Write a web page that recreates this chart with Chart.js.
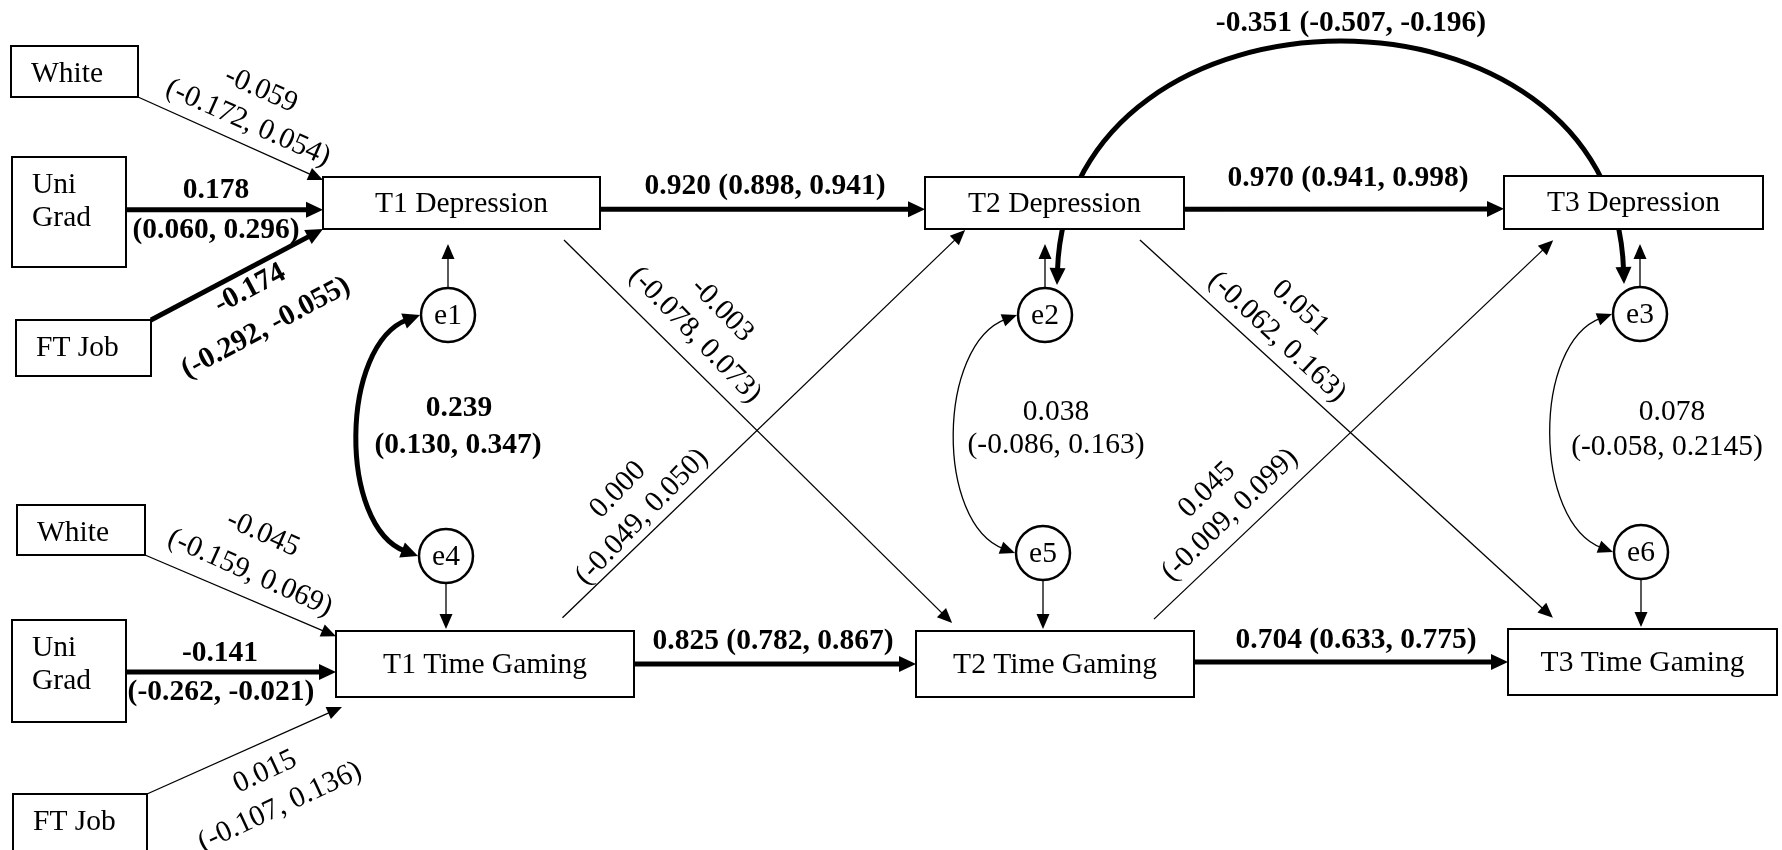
<!DOCTYPE html>
<html>
<head>
<meta charset="utf-8">
<script src="https://cdn.jsdelivr.net/npm/chart.js@4.4.1/dist/chart.umd.min.js"></script>
<style>
  html, body { margin: 0; padding: 0; background: #fff; }
  #wrap { width: 1782px; height: 850px; }
</style>
</head>
<body>
<div id="wrap"><canvas id="pathChart" width="1782" height="850"></canvas></div>
<script>
// observed variables
const nodeIds = ["whiteD", "uniD", "ftD", "whiteG", "uniG", "ftG", "t1d", "t2d", "t3d", "t1g", "t2g", "t3g"];
const nodeLabels = ["White", "Uni Grad", "FT Job", "White", "Uni Grad", "FT Job",
                    "T1 Depression", "T2 Depression", "T3 Depression",
                    "T1 Time Gaming", "T2 Time Gaming", "T3 Time Gaming"];

// regression paths: estimate and 95% CI
const pathFrom = ["whiteD", "uniD", "ftD", "whiteG", "uniG", "ftG", "t1d", "t1g", "t2d", "t2g", "t1d", "t1g", "t2d", "t2g"];
const pathTo   = ["t1d", "t1d", "t1d", "t1g", "t1g", "t1g", "t2d", "t2g", "t3d", "t3g", "t2g", "t2d", "t3g", "t3d"];
const pathEst  = [-0.059, 0.178, -0.174, -0.045, -0.141, 0.015, 0.920, 0.825, 0.970, 0.704, -0.003, 0.000, 0.051, 0.045];
const pathLow  = [-0.172, 0.060, -0.292, -0.159, -0.262, -0.107, 0.898, 0.782, 0.941, 0.633, -0.078, -0.049, -0.062, -0.009];
const pathHigh = [0.054, 0.296, -0.055, 0.069, -0.021, 0.136, 0.941, 0.867, 0.998, 0.775, 0.073, 0.050, 0.163, 0.099];

// residuals and their covariances
const errIds = ["e1", "e2", "e3", "e4", "e5", "e6"];
const errTargets = ["t1d", "t2d", "t3d", "t1g", "t2g", "t3g"];
const covFrom = ["e1", "e2", "e3", "e2"];
const covTo   = ["e4", "e5", "e6", "e3"];
const covEst  = [0.239, 0.038, 0.078, -0.351];
const covLow  = [0.130, -0.086, -0.058, -0.507];
const covHigh = [0.347, 0.163, 0.2145, -0.196];

// ---- layout (diagram units, same size as the canvas) ----
const boxLayout = {
  whiteD: [11, 46, 127, 51], uniD: [12, 157, 114, 110], ftD: [16, 320, 135, 56],
  whiteG: [17, 505, 128, 50], uniG: [12, 620, 114, 102], ftG: [13, 794, 134, 58],
  t1d: [323, 177, 277, 52], t2d: [925, 177, 259, 52], t3d: [1504, 176, 259, 53],
  t1g: [336, 631, 298, 66], t2g: [916, 631, 278, 66], t3g: [1508, 629, 269, 66]
};
const leftBoxes = ["whiteD", "uniD", "ftD", "whiteG", "uniG", "ftG"];
// anchor on source box / target box as fractions of the box
const pathAnchors = [
  [1, 1, 0, 0.06], [1, 0.48, 0, 0.63], [1, 0, 0, 1],
  [1, 1, 0, 0.08], [1, 0.51, 0, 0.62], [1, 0, 0.02, 1.15],
  [1, 0.62, 0, 0.62], [1, 0.5, 0, 0.5], [1, 0.62, 0, 0.62], [1, 0.47, 0, 0.5],
  [0.87, 1.21, 0.13, -0.12], [0.76, -0.2, 0.155, 1.02],
  [0.83, 1.21, 0.167, -0.17], [0.856, -0.18, 0.19, 1.21]
];
// [x1, y1, x2, y2, rotation] for two-line labels, [x, y] for one line
const pathLabelPos = [
  [261, 90, 248, 123, 24], [216, 190, 216, 230, 0], [250, 289, 266, 328, -28],
  [263, 534, 250, 573, 24], [220, 653, 221, 692, 0], [265, 772, 280, 807, -25],
  [765, 186], [773, 641], [1348, 178], [1356, 640],
  [722, 310, 695, 335, 46], [618, 490, 642, 517, -46],
  [1300, 308, 1277, 337, 43], [1207, 490, 1230, 515, -44]
];
const errLayout = { e1: [448, 315], e2: [1045, 315], e3: [1640, 314], e4: [446, 556], e5: [1043, 553], e6: [1641, 552] };
const errRadius = 27;
// start offset, end offset, control offsets for each covariance curve
const covGeom = [
  [-28, 0, -28, 0, -80, 30, -80, -30],
  [-28, 0, -28, 0, -80, 30, -80, -30],
  [-28, 0, -28, 0, -80, 30, -80, -30],
  [12, -30, -16, -30, 10, -320, -10, -320]
];
const covLabelPos = [[459, 408, 458, 445], [1056, 412, 1056, 445], [1672, 412, 1667, 447], [1351, 23]];

const FONT = "'Liberation Serif', 'Times New Roman', serif";
const FSIZE = 29.5;

function fmt(v) {
  const s = v.toFixed(3);
  return Math.abs(parseFloat(s) - v) > 1e-9 ? String(v) : s;
}
function isSig(lo, hi) { return lo * hi > 0; }

function head(ctx, x, y, ang, hl, hw) {
  const c = Math.cos(ang), s = Math.sin(ang);
  ctx.beginPath();
  ctx.moveTo(x, y);
  ctx.lineTo(x - hl * c + hw * s, y - hl * s - hw * c);
  ctx.lineTo(x - hl * c - hw * s, y - hl * s + hw * c);
  ctx.closePath();
  ctx.fill();
}
function arrowSizes(thick) {
  return thick ? { lw: 5, hl: 17, hw: 8 } : { lw: 1.3, hl: 15, hw: 6.5 };
}

const pathPlugin = {
  id: "pathDiagram",
  beforeDatasetsDraw(chart) {
    const { ctx, scales: { x, y } } = chart;
    const px = v => x.getPixelForValue(v), py = v => y.getPixelForValue(v);
    ctx.save();
    ctx.strokeStyle = "#000";
    ctx.fillStyle = "#000";
    ctx.lineCap = "butt";

    // straight regression paths
    pathFrom.forEach((f, i) => {
      const a = boxLayout[f], b = boxLayout[pathTo[i]], an = pathAnchors[i];
      const x1 = px(a[0] + an[0] * a[2]), y1 = py(a[1] + an[1] * a[3]);
      const x2 = px(b[0] + an[2] * b[2]), y2 = py(b[1] + an[3] * b[3]);
      const sz = arrowSizes(isSig(pathLow[i], pathHigh[i]));
      const ang = Math.atan2(y2 - y1, x2 - x1);
      ctx.lineWidth = sz.lw;
      ctx.beginPath();
      ctx.moveTo(x1, y1);
      ctx.lineTo(x2 - sz.hl * 0.8 * Math.cos(ang), y2 - sz.hl * 0.8 * Math.sin(ang));
      ctx.stroke();
      head(ctx, x2, y2, ang, sz.hl, sz.hw);
    });

    // residual arrows
    errIds.forEach((e, i) => {
      const c = errLayout[e], b = boxLayout[errTargets[i]];
      const top = c[1] < b[1];
      const x1 = px(c[0]);
      const y1 = py(top ? c[1] + errRadius : c[1] - errRadius);
      const y2 = py(top ? b[1] - 2 : b[1] + b[3] + 15);
      const sz = arrowSizes(false);
      const ang = Math.atan2(y2 - y1, 0);
      ctx.lineWidth = sz.lw;
      ctx.beginPath();
      ctx.moveTo(x1, y1);
      ctx.lineTo(x1, y2 - sz.hl * 0.8 * Math.sin(ang));
      ctx.stroke();
      head(ctx, x1, y2, ang, sz.hl, sz.hw);
    });

    // covariance curves, double headed
    covFrom.forEach((f, i) => {
      const a = errLayout[f], b = errLayout[covTo[i]], g = covGeom[i];
      const p0 = [a[0] + g[0], a[1] + g[1]], p3 = [b[0] + g[2], b[1] + g[3]];
      const p1 = [p0[0] + g[4], p0[1] + g[5]], p2 = [p3[0] + g[6], p3[1] + g[7]];
      const P = p => [px(p[0]), py(p[1])];
      const q0 = P(p0), q1 = P(p1), q2 = P(p2), q3 = P(p3);
      const sz = arrowSizes(isSig(covLow[i], covHigh[i]));
      const a0 = Math.atan2(q0[1] - q1[1], q0[0] - q1[0]);
      const a3 = Math.atan2(q3[1] - q2[1], q3[0] - q2[0]);
      const s0 = [q0[0] - sz.hl * 0.8 * Math.cos(a0), q0[1] - sz.hl * 0.8 * Math.sin(a0)];
      const s3 = [q3[0] - sz.hl * 0.8 * Math.cos(a3), q3[1] - sz.hl * 0.8 * Math.sin(a3)];
      ctx.lineWidth = sz.lw;
      ctx.beginPath();
      ctx.moveTo(s0[0], s0[1]);
      ctx.bezierCurveTo(q1[0], q1[1], q2[0], q2[1], s3[0], s3[1]);
      ctx.stroke();
      head(ctx, q0[0], q0[1], a0, sz.hl, sz.hw);
      head(ctx, q3[0], q3[1], a3, sz.hl, sz.hw);
    });

    // boxes on top of the lines
    nodeIds.forEach(id => {
      const b = boxLayout[id];
      const x1 = px(b[0]), y1 = py(b[1]), x2 = px(b[0] + b[2]), y2 = py(b[1] + b[3]);
      ctx.fillStyle = "#fff";
      ctx.fillRect(x1, y1, x2 - x1, y2 - y1);
      ctx.lineWidth = 2;
      ctx.strokeRect(x1, y1, x2 - x1, y2 - y1);
    });
    ctx.restore();
  },
  afterDatasetsDraw(chart) {
    const { ctx, scales: { x, y } } = chart;
    const px = v => x.getPixelForValue(v), py = v => y.getPixelForValue(v);
    ctx.save();
    ctx.fillStyle = "#000";
    ctx.textBaseline = "middle";
    const setFont = bold => { ctx.font = (bold ? "bold " : "") + FSIZE + "px " + FONT; };

    const text = (t, cx, cy, rot, bold) => {
      setFont(bold);
      ctx.save();
      ctx.translate(px(cx), py(cy));
      ctx.rotate(rot * Math.PI / 180);
      ctx.textAlign = "center";
      ctx.fillText(t, 0, 0);
      ctx.restore();
    };

    // node labels
    nodeIds.forEach((id, i) => {
      const b = boxLayout[id];
      setFont(false);
      if (leftBoxes.includes(id)) {
        ctx.textAlign = "left";
        const lines = nodeLabels[i] === "Uni Grad" ? ["Uni", "Grad"] : [nodeLabels[i]];
        if (lines.length === 2) {
          ctx.fillText(lines[0], px(b[0] + 20), py(b[1] + 28));
          ctx.fillText(lines[1], px(b[0] + 20), py(b[1] + 61));
        } else {
          ctx.fillText(lines[0], px(b[0] + 20), py(b[1] + 28));
        }
      } else {
        ctx.textAlign = "center";
        ctx.fillText(nodeLabels[i], px(b[0] + b[2] / 2), py(b[1] + b[3] / 2 + 1));
      }
    });

    // residual labels
    errIds.forEach(e => {
      const c = errLayout[e];
      text(e, c[0], c[1] + 1, 0, false);
    });

    // path estimates
    pathEst.forEach((v, i) => {
      const pos = pathLabelPos[i];
      const bold = isSig(pathLow[i], pathHigh[i]);
      const ci = "(" + fmt(pathLow[i]) + ", " + fmt(pathHigh[i]) + ")";
      if (pos.length === 2) {
        text(fmt(v) + " " + ci, pos[0], pos[1], 0, bold);
      } else {
        text(fmt(v), pos[0], pos[1], pos[4], bold);
        text(ci, pos[2], pos[3], pos[4], bold);
      }
    });

    // covariance estimates
    covEst.forEach((v, i) => {
      const pos = covLabelPos[i];
      const bold = isSig(covLow[i], covHigh[i]);
      const ci = "(" + fmt(covLow[i]) + ", " + fmt(covHigh[i]) + ")";
      if (pos.length === 2) {
        text(fmt(v) + " " + ci, pos[0], pos[1], 0, bold);
      } else {
        text(fmt(v), pos[0], pos[1], 0, bold);
        text(ci, pos[2], pos[3], 0, bold);
      }
    });
    ctx.restore();
  }
};

const ctx = document.getElementById("pathChart").getContext("2d");

const pathChart = new Chart(ctx, {
  type: "scatter",
  data: {
    datasets: [{
      label: "Residuals",
      data: errIds.map(e => ({ x: errLayout[e][0], y: errLayout[e][1] })),
      pointRadius: errRadius,
      pointHoverRadius: errRadius,
      pointBorderWidth: 2.5,
      pointBackgroundColor: "#fff",
      pointBorderColor: "#000",
      clip: false
    }]
  },
  options: {
    responsive: false,
    animation: false,
    events: [],
    layout: { padding: 0, autoPadding: false },
    plugins: { legend: { display: false }, tooltip: { enabled: false } },
    scales: {
      x: { type: "linear", min: 0, max: 1782, display: false },
      y: { type: "linear", min: 0, max: 850, reverse: true, display: false }
    }
  },
  plugins: [pathPlugin]
});
</script>
</body>
</html>
